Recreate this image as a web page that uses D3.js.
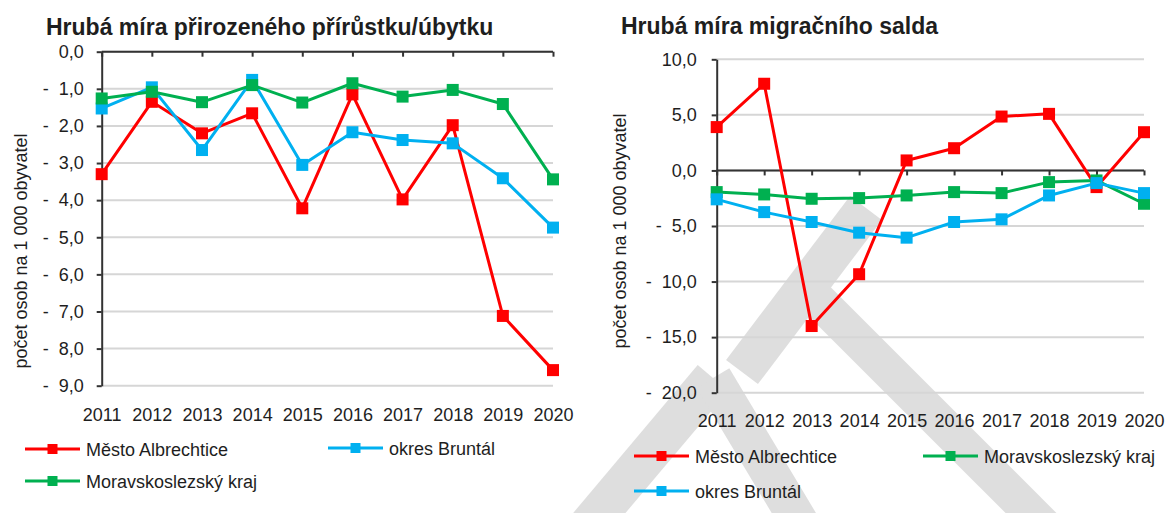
<!DOCTYPE html>
<html>
<head>
<meta charset="utf-8">
<script src="https://cdn.jsdelivr.net/npm/d3@7"></script>
<style>
  body { margin: 0; background: #fff; }
  svg { display: block; font-family: "Liberation Sans", Arial, sans-serif; }
  text { fill: #1e1e1e; }
</style>
</head>
<body>
<svg id="chart" width="1167" height="513"></svg>
<script>
// years on the x axis (both panels)
const years = ["2011", "2012", "2013", "2014", "2015", "2016", "2017", "2018", "2019", "2020"];

// hrubá míra přirozeného přírůstku/úbytku (per 1 000 inhabitants)
const natAlbrechtice = [-3.3, -1.35, -2.2, -1.66, -4.22, -1.15, -3.98, -1.98, -7.12, -8.58];
const natBruntal = [-1.53, -0.96, -2.65, -0.76, -3.05, -2.17, -2.38, -2.47, -3.41, -4.74];
const natKraj = [-1.26, -1.08, -1.36, -0.9, -1.37, -0.85, -1.21, -1.03, -1.41, -3.44];

// hrubá míra migračního salda (per 1 000 inhabitants)
const migAlbrechtice = [3.9, 7.8, -14.0, -9.34, 0.9, 2.0, 4.85, 5.09, -1.5, 3.44];
const migBruntal = [-2.6, -3.75, -4.64, -5.6, -6.05, -4.64, -4.4, -2.25, -1.14, -2.04];
const migKraj = [-1.95, -2.16, -2.55, -2.49, -2.25, -1.95, -2.04, -1.05, -0.9, -3.0];

const natTicks = [0, -1, -2, -3, -4, -5, -6, -7, -8, -9];
const migTicks = [10, 5, 0, -5, -10, -15, -20];

const seriesNames = ["Město Albrechtice", "okres Bruntál", "Moravskoslezský kraj"];
const seriesColors = ["#ff0000", "#00b0f0", "#00b050"];
const axisTitle = "počet osob na 1 000 obyvatel";

const svg = d3.select("#chart");

// grey watermark behind the charts
const wm = svg.append("g").attr("fill", "#dedede");
const band = (x1, y1, x2, y2, w) => {
  const dx = x2 - x1, dy = y2 - y1, len = Math.hypot(dx, dy);
  const nx = -dy / len * w / 2, ny = dx / len * w / 2;
  return [[x1 + nx, y1 + ny], [x2 + nx, y2 + ny], [x2 - nx, y2 - ny], [x1 - nx, y1 - ny]];
};
[
  band(742, 372, 866, 208, 40),
  band(800, 282, 1065, 547, 36),
  band(585, 530, 713, 378, 40),
  band(713, 378, 810, 540, 38)
].forEach(p => wm.append("path").attr("d", d3.line()(p) + "Z"));

const fmt = v => v === 0 ? "0,0" :
  (v < 0 ? "-\u00a0\u00a0" : "") + d3.format(".1f")(Math.abs(v)).replace(".", ",");

function drawPanel(o) {
  const g = svg.append("g");

  const x = d3.scalePoint().domain(years).range([o.left, o.right]);
  const y = d3.scaleLinear().domain(o.domain).range([o.top, o.bottom]);

  // gridlines
  g.append("g").selectAll("line")
    .data(o.ticks)
    .enter().append("line")
    .attr("x1", o.left).attr("x2", o.right)
    .attr("y1", d => y(d)).attr("y2", d => y(d))
    .attr("stroke", "#d6d6d6")
    .attr("stroke-width", 2);

  // y axis
  const ya = g.append("g")
    .attr("transform", `translate(${o.left},0)`)
    .call(d3.axisLeft(y).tickValues(o.ticks).tickFormat(fmt).tickSize(5).tickPadding(o.pad).tickSizeOuter(0));
  ya.selectAll("text").style("font-size", "18px").style("font-family", "inherit").attr("fill", "#1e1e1e");

  // x axis line at zero, ticks only
  const xa = g.append("g")
    .attr("transform", `translate(0,${y(0)})`)
    .call(d3.axisBottom(x).tickFormat("").tickSize(5).tickSizeOuter(0));
  xa.select(".domain").attr("d", `M${o.left},0H${o.right}`);

  // year labels under the plot
  const xl = g.append("g")
    .attr("transform", `translate(0,${o.labelY})`)
    .call(d3.axisBottom(x).tickSize(0).tickPadding(0));
  xl.select(".domain").remove();
  xl.selectAll("text").attr("dy", 0).style("font-size", "18px").style("font-family", "inherit").attr("fill", "#1e1e1e");

  g.selectAll(".domain, .tick line").attr("stroke", "#333").attr("stroke-width", 2);

  // series
  o.series.forEach(s => {
    const pts = years.map((yr, i) => [x(yr), y(s.values[i])]);
    g.append("path")
      .attr("d", d3.line()(pts))
      .attr("fill", "none")
      .attr("stroke", seriesColors[s.idx])
      .attr("stroke-width", 3)
      .attr("stroke-linejoin", "round");
    g.append("g").selectAll("rect")
      .data(pts)
      .enter().append("rect")
      .attr("x", d => d[0] - 6).attr("y", d => d[1] - 6)
      .attr("width", 12).attr("height", 12)
      .attr("fill", seriesColors[s.idx]);
  });

  // titles
  g.append("text")
    .attr("x", o.titleX).attr("y", o.titleY)
    .style("font-size", "23px").style("font-weight", "bold")
    .attr("fill", "#000")
    .text(o.title);

  g.append("text")
    .attr("transform", `translate(${o.axisTitleX},${o.axisTitleY}) rotate(-90)`)
    .attr("text-anchor", "middle")
    .style("font-size", "18px")
    .text(axisTitle);

  // legend
  o.legend.forEach(l => {
    const lg = g.append("g").attr("transform", `translate(${l.x},${l.y})`);
    lg.append("line").attr("x1", 0).attr("x2", 55)
      .attr("stroke", seriesColors[l.idx]).attr("stroke-width", 3);
    lg.append("rect").attr("x", 22.5).attr("y", -5).attr("width", 10).attr("height", 10)
      .attr("fill", seriesColors[l.idx]);
    lg.append("text").attr("x", 61).attr("y", 6.5)
      .style("font-size", "18px")
      .text(seriesNames[l.idx]);
  });
}

drawPanel({
  title: "Hrubá míra přirozeného přírůstku/úbytku",
  titleX: 46, titleY: 35,
  axisTitleX: 27, axisTitleY: 251,
  left: 101.7, right: 553, top: 51.7, bottom: 385.7,
  domain: [0, -9], ticks: natTicks, pad: 13, labelY: 421,
  series: [
    { idx: 0, values: natAlbrechtice },
    { idx: 1, values: natBruntal },
    { idx: 2, values: natKraj }
  ],
  legend: [
    { idx: 0, x: 25, y: 449 },
    { idx: 1, x: 328, y: 448 },
    { idx: 2, x: 25, y: 481 }
  ]
});

drawPanel({
  title: "Hrubá míra migračního salda",
  titleX: 621, titleY: 33.5,
  axisTitleX: 626, axisTitleY: 231,
  left: 716.7, right: 1144, top: 59.3, bottom: 392.7,
  domain: [10, -20], ticks: migTicks, pad: 15, labelY: 427,
  series: [
    { idx: 0, values: migAlbrechtice },
    { idx: 2, values: migKraj },
    { idx: 1, values: migBruntal }
  ],
  legend: [
    { idx: 0, x: 634, y: 456 },
    { idx: 2, x: 923, y: 456 },
    { idx: 1, x: 634, y: 491 }
  ]
});
</script>
</body>
</html>
